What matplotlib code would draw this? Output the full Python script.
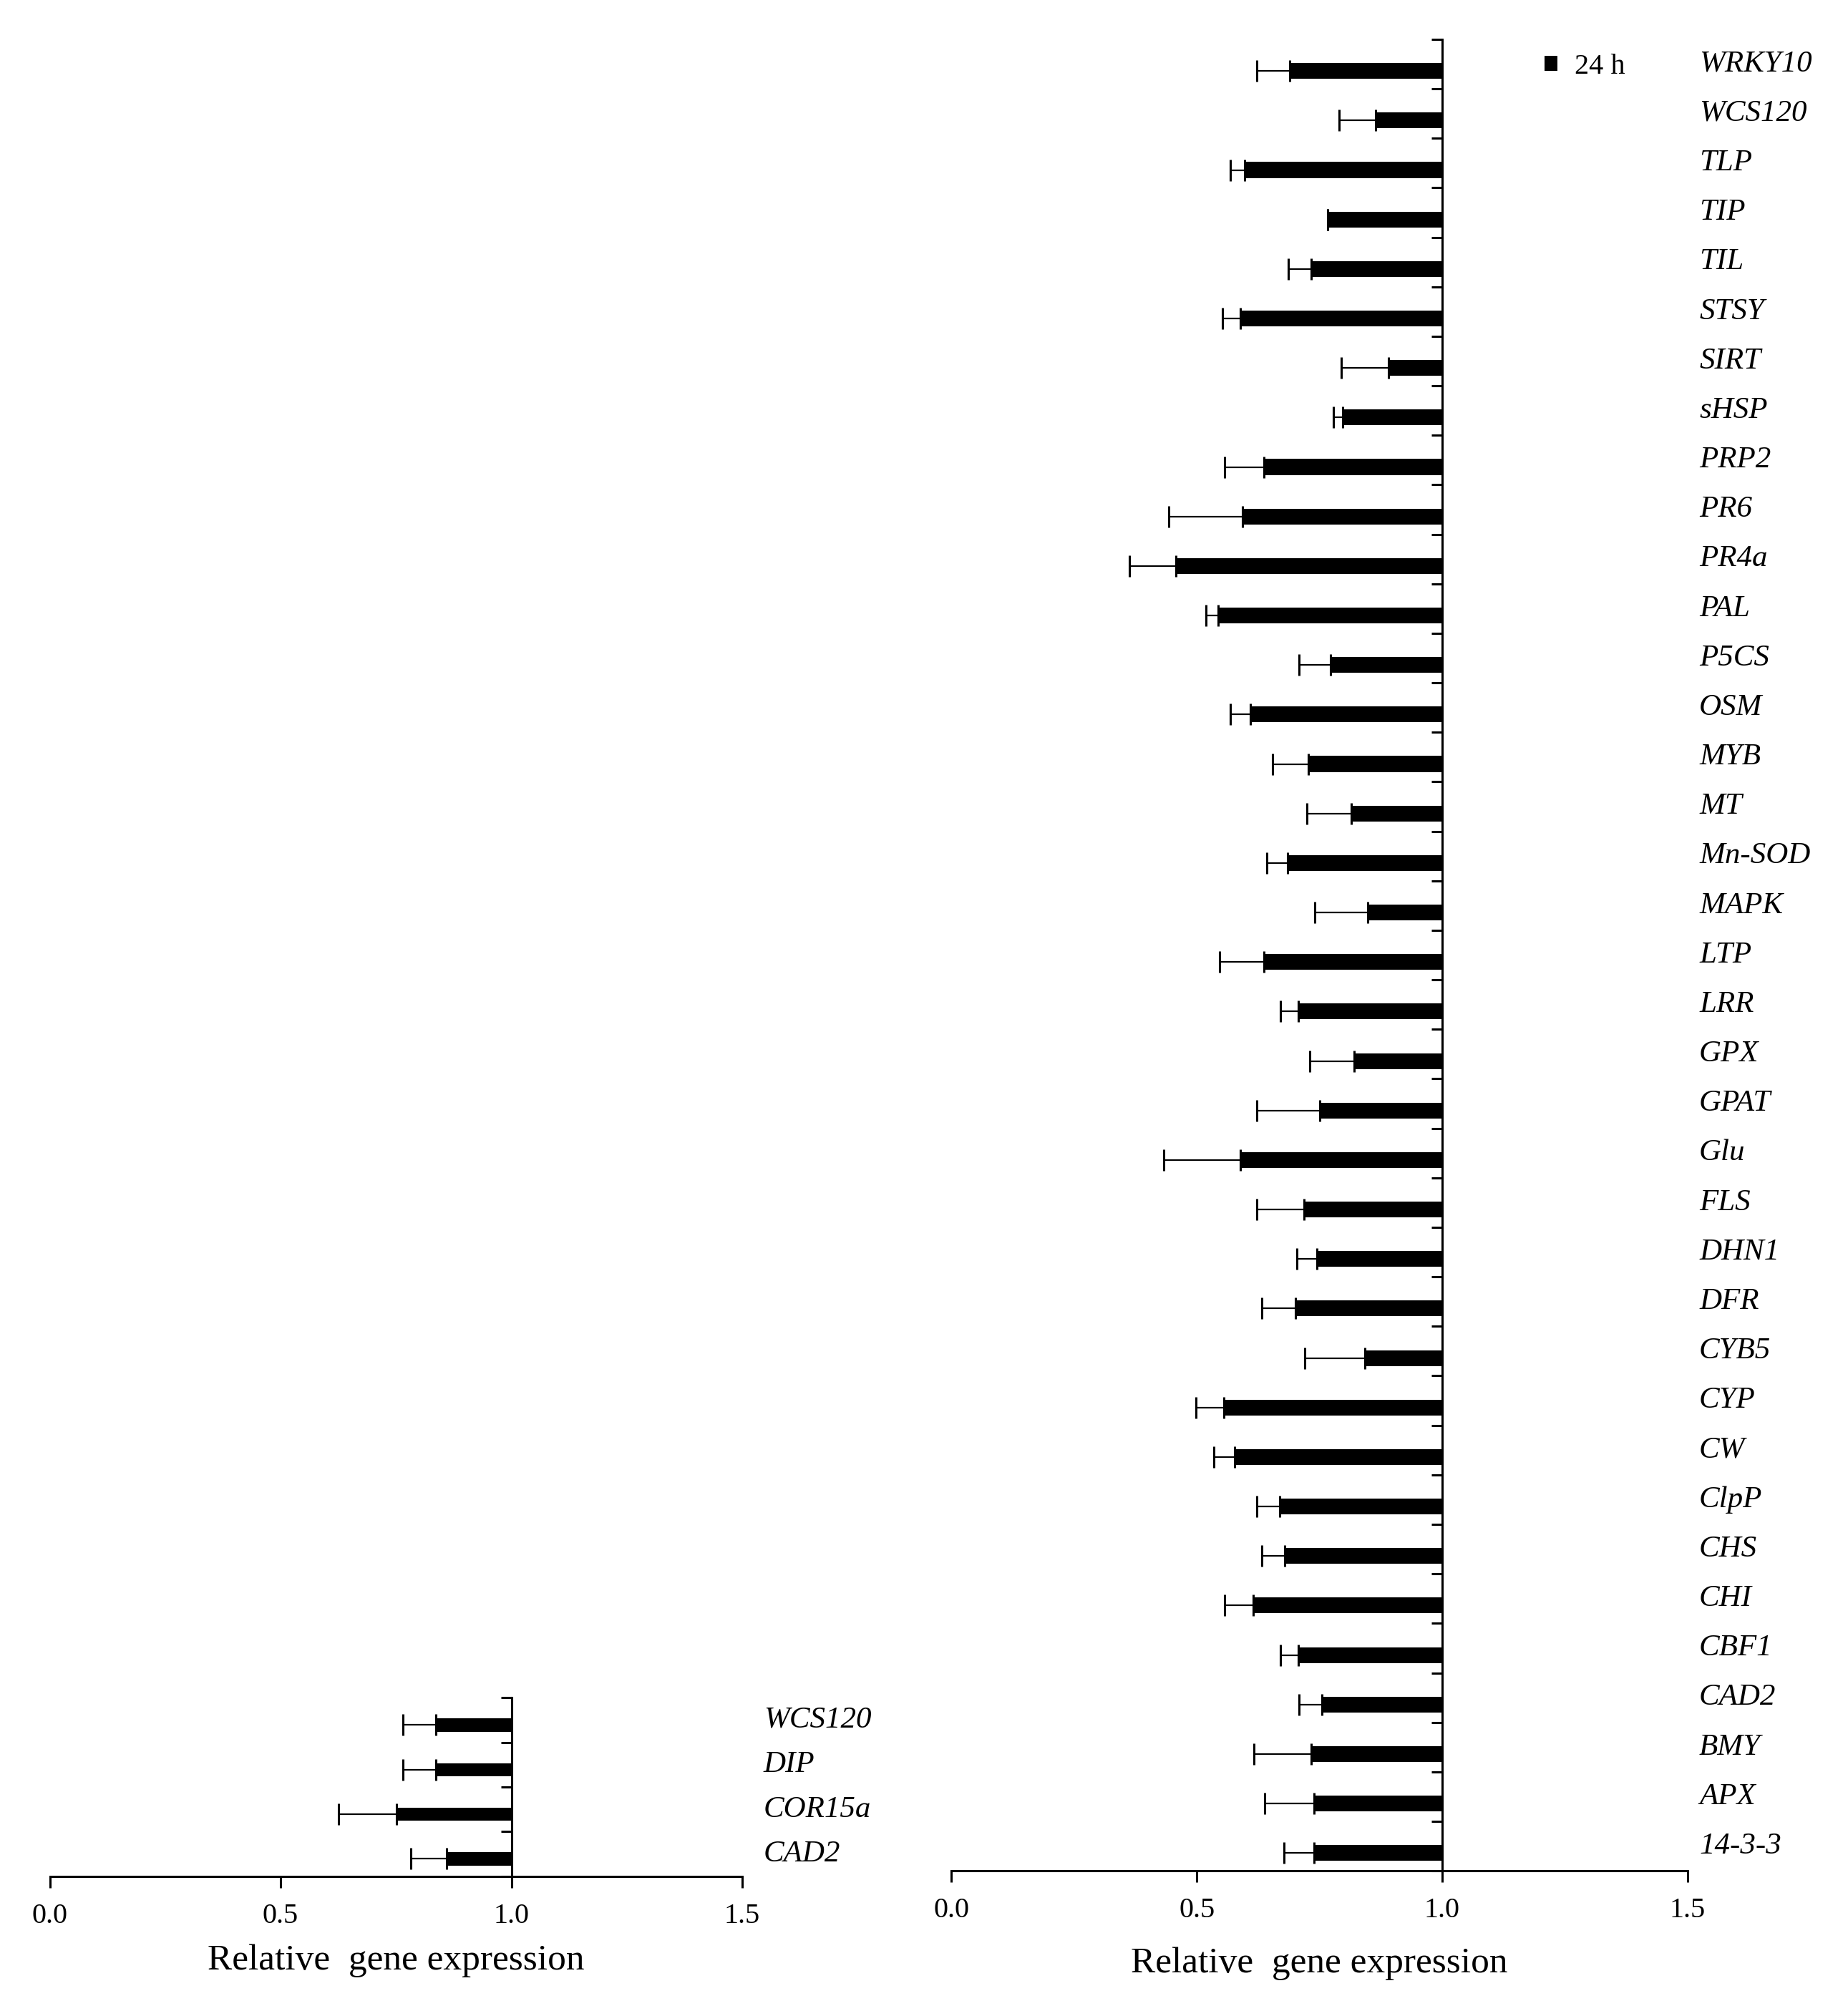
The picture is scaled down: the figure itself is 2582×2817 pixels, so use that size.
import matplotlib.pyplot as plt
import numpy as np

plt.rcParams['font.family'] = ['Liberation Serif', 'DejaVu Serif']

# right panel, top to bottom
genes_24h = ['WRKY10', 'WCS120', 'TLP', 'TIP', 'TIL', 'STSY', 'SIRT', 'sHSP',
             'PRP2', 'PR6', 'PR4a', 'PAL', 'P5CS', 'OSM', 'MYB', 'MT', 'Mn-SOD',
             'MAPK', 'LTP', 'LRR', 'GPX', 'GPAT', 'Glu', 'FLS', 'DHN1', 'DFR',
             'CYB5', 'CYP', 'CW', 'ClpP', 'CHS', 'CHI', 'CBF1', 'CAD2', 'BMY',
             'APX', '14-3-3']
expr_24h = [0.690, 0.864, 0.598, 0.767, 0.733, 0.588, 0.891, 0.798,
            0.637, 0.593, 0.458, 0.544, 0.772, 0.609, 0.728, 0.815, 0.685,
            0.848, 0.637, 0.707, 0.821, 0.750, 0.588, 0.718, 0.745, 0.701,
            0.842, 0.555, 0.577, 0.669, 0.679, 0.615, 0.707, 0.755, 0.733,
            0.739, 0.739]
err_24h = [0.068, 0.074, 0.030, 0.000, 0.046, 0.036, 0.096, 0.019,
           0.080, 0.150, 0.096, 0.025, 0.063, 0.041, 0.074, 0.091, 0.042,
           0.107, 0.091, 0.036, 0.091, 0.128, 0.155, 0.096, 0.041, 0.068,
           0.122, 0.057, 0.042, 0.047, 0.046, 0.058, 0.036, 0.046, 0.116,
           0.100, 0.062]

# left panel, top to bottom
genes_small = ['WCS120', 'DIP', 'COR15a', 'CAD2']
expr_small = [0.837, 0.837, 0.751, 0.860]
err_small = [0.072, 0.072, 0.125, 0.078]

xticks = [0.0, 0.5, 1.0, 1.5]
xlabel = 'Relative  gene expression'


def draw_panel(ax, genes, vals, errs, bar_h, shift, label_x, xlabel_y, legend=False):
    n = len(genes)
    pos = np.arange(n)
    vals = np.array(vals)
    bars = ax.barh(pos + shift, 1.0 - vals, left=vals, height=bar_h,
                   color='black', label='24 h', zorder=2)
    ax.errorbar(vals, pos + shift, xerr=[errs, np.zeros(n)], fmt='none',
                ecolor='black', elinewidth=1.6, capsize=10.5, capthick=2.2,
                zorder=1)
    ax.set_xlim(0, 1.5)
    ax.set_ylim(n - 0.5, -0.5)
    ax.spines['top'].set_visible(False)
    ax.spines['right'].set_visible(False)
    ax.spines['left'].set_position(('data', 1.0))
    ax.spines['left'].set_linewidth(2.2)
    ax.spines['bottom'].set_linewidth(2.2)
    ax.set_yticks(np.arange(n + 1) - 0.5)
    ax.set_yticklabels([])
    ax.tick_params(axis='y', direction='out', length=10.5, width=2.2)
    ax.set_xticks(xticks)
    ax.set_xticklabels(['%.1f' % t for t in xticks], fontsize=29)
    ax.tick_params(axis='x', direction='out', length=11.5, width=2.2, pad=15)
    for i, g in enumerate(genes):
        ax.text(label_x, i, g, transform=ax.get_yaxis_transform(),
                fontsize=31, style='italic', ha='left', va='center')
    ax.text(0.5, xlabel_y, xlabel, transform=ax.transAxes, fontsize=37,
            ha='center', va='center')
    if legend:
        ax.legend(handles=[bars], loc='center left', bbox_to_anchor=(0.806, 0.985),
                  frameon=False, fontsize=29, handlelength=0.45, handleheight=0.45,
                  handletextpad=0.6, borderpad=0, borderaxespad=0)


fig = plt.figure(figsize=(25.82, 28.17), dpi=100)
ax_right = fig.add_axes([0.5149, 0.0720, 0.3982, 0.9085])
ax_left = fig.add_axes([0.0270, 0.0693, 0.3746, 0.0885])

draw_panel(ax_right, genes_24h, expr_24h, err_24h, bar_h=0.32, shift=0.14,
           label_x=1.016, xlabel_y=-0.0507, legend=True)
draw_panel(ax_left, genes_small, expr_small, err_small, bar_h=0.29, shift=0.11,
           label_x=1.031, xlabel_y=-0.474)

fig.savefig('out.png', dpi=100, facecolor='white')
